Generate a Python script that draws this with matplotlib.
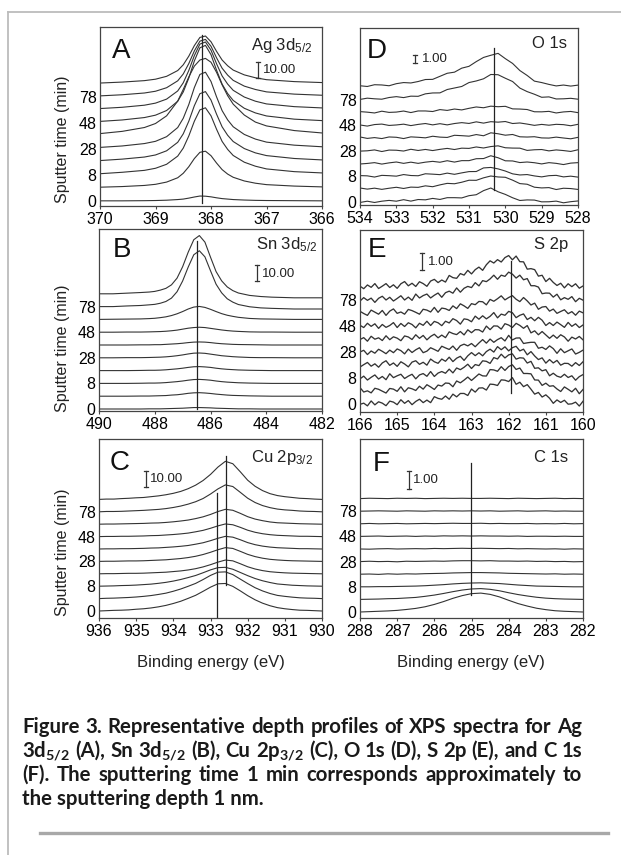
import matplotlib
matplotlib.use("Agg")
import matplotlib.pyplot as plt
from matplotlib.lines import Line2D
import numpy as np

plt.rcParams['font.family'] = ['Liberation Sans', 'DejaVu Sans']
plt.rcParams['mathtext.fontset'] = 'custom'
plt.rcParams['mathtext.rm'] = 'Liberation Sans'
plt.rcParams['mathtext.it'] = 'Liberation Sans:italic'
plt.rcParams['mathtext.bf'] = 'Lato:bold'

# ---------------- data ----------------
sputter_index = [0, 2, 4, 6, 8]
sputter_labels = ['0', '8', '28', '48', '78']

# A: Ag 3d5/2
energy_A = [370.0, 369.6, 369.2, 369.0, 368.8, 368.6, 368.5, 368.4, 368.3, 368.2, 368.1,
            368.0, 367.9, 367.8, 367.7, 367.6, 367.4, 367.2, 367.0, 366.5, 366.0]
ag_spectra = [
    [0.1, 0.1, 0.2, 0.3, 0.5, 0.9, 1.2, 1.8, 2.5, 3.1, 3.0, 2.6, 2.0, 1.5, 1.2, 0.9, 0.6, 0.4, 0.3, 0.2, 0.1],
    [0.5, 0.9, 1.6, 2.3, 3.7, 6.4, 9.2, 13.3, 18.4, 22.3, 23.0, 20.2, 15.6, 11.5, 8.7, 6.7, 4.4, 3.0, 2.1, 1.2, 0.7],
    [0.8, 1.7, 2.9, 4.2, 6.7, 11.8, 16.8, 24.4, 33.6, 40.7, 42.0, 37.0, 28.6, 21.0, 16.0, 12.2, 8.0, 5.5, 3.8, 2.1, 1.3],
    [0.9, 1.8, 3.1, 4.4, 7.0, 12.3, 17.6, 25.5, 35.2, 42.7, 44.0, 38.7, 29.9, 22.0, 16.7, 12.8, 8.4, 5.7, 4.0, 2.2, 1.3],
    [1.0, 1.9, 3.4, 4.8, 7.7, 13.4, 19.2, 27.8, 38.4, 46.6, 48.0, 42.2, 32.6, 24.0, 18.2, 13.9, 9.1, 6.2, 4.3, 2.4, 1.4],
    [1.5, 2.9, 5.3, 7.8, 12.6, 21.8, 29.1, 36.9, 43.7, 47.5, 48.5, 46.1, 39.8, 32.0, 25.2, 19.9, 13.1, 8.7, 6.3, 3.4, 1.9],
    [1.0, 1.9, 3.4, 4.9, 7.8, 13.6, 19.4, 28.1, 38.8, 47.0, 48.5, 42.7, 33.0, 24.3, 18.4, 14.1, 9.2, 6.3, 4.4, 2.4, 1.5],
    [0.9, 1.7, 3.0, 4.3, 6.8, 11.9, 17.0, 24.7, 34.0, 41.2, 42.5, 37.4, 28.9, 21.3, 16.2, 12.3, 8.1, 5.5, 3.8, 2.1, 1.3],
    [0.7, 1.4, 2.5, 3.6, 5.8, 10.1, 14.4, 20.9, 28.8, 34.9, 36.0, 31.7, 24.5, 18.0, 13.7, 10.4, 6.8, 4.7, 3.2, 1.8, 1.1],
    [0.6, 1.2, 2.1, 3.0, 4.8, 8.4, 12.0, 17.4, 24.0, 29.1, 30.0, 26.4, 20.4, 15.0, 11.4, 8.7, 5.7, 3.9, 2.7, 1.5, 0.9],
]
ag_peak = [368.16]

# B: Sn 3d5/2
energy_B = [490.0, 489.5, 489.0, 488.5, 488.2, 488.0, 487.8, 487.6, 487.4, 487.2, 487.0, 486.8, 486.6,
            486.4, 486.2, 486.0, 485.8, 485.6, 485.4, 485.2, 485.0, 484.6, 484.2, 483.8, 483.0, 482.0]
sn_spectra = [
    [0, 0, 0, 0, 0.1, 0.1, 0.1, 0.2, 0.3, 0.4, 0.5, 0.7, 0.9, 0.9, 0.8, 0.7, 0.5, 0.4, 0.3, 0.2, 0.1, 0.1, 0, 0, 0, 0],
    [0, 0, 0, 0.1, 0.1, 0.2, 0.3, 0.4, 0.7, 0.9, 1.3, 1.8, 2.1, 2.2, 2.0, 1.7, 1.3, 1.0, 0.7, 0.5, 0.4, 0.2, 0.1, 0, 0, 0],
    [0, 0, 0, 0.1, 0.2, 0.2, 0.3, 0.5, 0.8, 1.1, 1.5, 2.0, 2.4, 2.5, 2.3, 2.0, 1.5, 1.1, 0.8, 0.6, 0.4, 0.2, 0.1, 0, 0, 0],
    [0, 0, 0, 0.1, 0.2, 0.2, 0.3, 0.5, 0.8, 1.1, 1.5, 2.0, 2.4, 2.5, 2.3, 2.0, 1.5, 1.1, 0.8, 0.6, 0.4, 0.2, 0.1, 0, 0, 0],
    [0, 0, 0.1, 0.1, 0.2, 0.3, 0.4, 0.6, 0.9, 1.3, 1.8, 2.4, 2.9, 3.0, 2.8, 2.3, 1.8, 1.3, 1.0, 0.7, 0.5, 0.2, 0.1, 0.1, 0, 0],
    [0, 0, 0, 0.1, 0.1, 0.2, 0.2, 0.4, 0.6, 0.8, 1.1, 1.5, 1.8, 1.9, 1.8, 1.5, 1.1, 0.8, 0.6, 0.4, 0.3, 0.2, 0.1, 0, 0, 0],
    [0, 0, 0.1, 0.1, 0.2, 0.3, 0.4, 0.6, 0.9, 1.3, 1.9, 2.5, 2.9, 3.1, 2.9, 2.4, 1.9, 1.4, 1.0, 0.7, 0.5, 0.2, 0.1, 0.1, 0, 0],
    [0, 0.1, 0.2, 0.3, 0.5, 0.7, 1.1, 1.6, 2.4, 3.5, 4.9, 6.5, 7.7, 8.1, 7.5, 6.3, 4.9, 3.6, 2.6, 1.9, 1.3, 0.6, 0.3, 0.2, 0, 0],
    [0, 0, 0.4, 0.7, 1.1, 1.4, 2.1, 3.2, 5.3, 9.3, 16.0, 24.7, 32.4, 34.9, 31.1, 22.4, 14.0, 8.6, 4.9, 2.8, 1.3, -0.1, -0.8, -1.1, -1.5, -1.5],
    [0, 0, 0.4, 0.8, 1.1, 1.5, 2.3, 3.4, 5.6, 9.8, 16.9, 26.0, 33.8, 36.4, 32.3, 22.9, 13.9, 8.1, 4.3, 2.0, 0.5, -1.0, -1.7, -2.1, -2.5, -2.5],
]
sn_peak = [486.49]

# C: Cu 2p3/2
energy_C = [936.0, 935.8, 935.6, 935.4, 935.2, 935.0, 934.8, 934.6, 934.4, 934.2, 934.0, 933.8, 933.6,
            933.4, 933.2, 933.0, 932.8, 932.6, 932.4, 932.2, 932.0, 931.8, 931.6, 931.4, 931.2, 931.0,
            930.8, 930.6, 930.4, 930.2, 930.0]
cu_spectra = [
    [0, 0.2, 0.4, 0.5, 0.7, 1.1, 1.4, 1.9, 2.6, 3.5, 4.7, 6.1, 7.9, 9.8, 12.3, 14.9, 17.0, 17.2, 15.4, 12.6, 9.6, 7.0, 4.9, 3.3, 2.1, 1.4, 0.9, 0.5, 0.4, 0.2, 0],
    [0, 0.2, 0.3, 0.5, 0.7, 1.0, 1.4, 1.9, 2.6, 3.4, 4.6, 6.0, 7.7, 9.5, 11.9, 14.5, 16.5, 16.7, 15.0, 12.2, 9.4, 6.8, 4.8, 3.2, 2.0, 1.4, 0.9, 0.5, 0.3, 0.2, 0],
    [0, 0.1, 0.2, 0.4, 0.5, 0.7, 1.0, 1.3, 1.8, 2.4, 3.2, 4.2, 5.4, 6.7, 8.4, 10.2, 11.6, 11.8, 10.6, 8.6, 6.6, 4.8, 3.4, 2.3, 1.4, 1.0, 0.6, 0.4, 0.2, 0.1, 0],
    [0, 0.1, 0.1, 0.2, 0.3, 0.3, 0.4, 0.6, 0.8, 1.0, 1.4, 1.8, 2.4, 3.2, 4.3, 5.7, 7.3, 8.6, 8.1, 6.3, 4.4, 3.0, 2.0, 1.3, 0.9, 0.6, 0.4, 0.3, 0.2, 0.1, 0],
    [0, 0.1, 0.1, 0.2, 0.3, 0.3, 0.4, 0.6, 0.8, 1.0, 1.4, 1.8, 2.4, 3.2, 4.3, 5.7, 7.3, 8.6, 8.1, 6.3, 4.4, 3.0, 2.0, 1.3, 0.9, 0.6, 0.4, 0.3, 0.2, 0.1, 0],
    [0, 0.1, 0.1, 0.2, 0.2, 0.3, 0.4, 0.6, 0.7, 1.0, 1.3, 1.7, 2.2, 3.0, 3.9, 5.2, 6.7, 7.9, 7.4, 5.8, 4.0, 2.7, 1.8, 1.2, 0.8, 0.6, 0.4, 0.2, 0.2, 0.1, 0],
    [0, 0.1, 0.1, 0.2, 0.2, 0.3, 0.4, 0.6, 0.7, 1.0, 1.3, 1.7, 2.2, 3.0, 3.9, 5.2, 6.7, 7.9, 7.4, 5.8, 4.0, 2.7, 1.8, 1.2, 0.8, 0.6, 0.4, 0.2, 0.2, 0.1, 0],
    [0, 0.1, 0.1, 0.2, 0.3, 0.4, 0.5, 0.7, 0.8, 1.1, 1.5, 2.0, 2.6, 3.5, 4.6, 6.1, 7.9, 9.3, 8.7, 6.8, 4.7, 3.2, 2.2, 1.4, 0.9, 0.7, 0.5, 0.3, 0.2, 0.1, 0],
    [0, 0.2, 0.2, 0.3, 0.5, 0.7, 0.9, 1.2, 1.5, 2.0, 2.7, 3.6, 4.8, 6.3, 8.3, 11.1, 14.3, 16.8, 15.8, 12.2, 8.5, 5.8, 3.9, 2.6, 1.7, 1.2, 0.9, 0.5, 0.3, 0.2, 0],
    [0, 0.2, 0.2, 0.5, 0.7, 1.0, 1.2, 1.7, 2.2, 2.9, 3.8, 5.0, 6.7, 8.9, 11.8, 15.6, 20.2, 23.8, 22.3, 17.3, 12.0, 8.2, 5.5, 3.6, 2.4, 1.7, 1.2, 0.7, 0.5, 0.2, 0],
]
cu_peaks = [932.83, 932.57]

# D: O 1s
energy_D = [534.0, 533.8, 533.6, 533.4, 533.2, 533.0, 532.8, 532.6, 532.4, 532.2, 532.0, 531.8, 531.6,
            531.4, 531.2, 531.0, 530.8, 530.6, 530.4, 530.2, 530.0, 529.8, 529.6, 529.4, 529.2, 529.0,
            528.8, 528.6, 528.4, 528.2, 528.0]
o_spectra = [
    [-0.06, 0.10, -0.06, 0.10, 0.20, 0.10, 0.29, 0.11, 0.31, 0.27, 0.45, 0.32, 0.54, 0.54, 0.51, 0.79, 0.91, 1.42, 1.75, 1.28, 0.95, 0.53, 0.19, 0.26, 0.24, 0.02, 0.03, 0.11, -0.10, 0.04, 0.13],
    [0.15, 0.01, 0.13, -0.02, 0.12, 0.24, 0.09, 0.26, 0.23, 0.42, 0.31, 0.54, 0.73, 0.68, 0.87, 1.12, 1.11, 1.42, 1.65, 1.53, 1.49, 1.13, 0.70, 0.62, 0.25, 0.16, 0.20, -0.04, 0.12, 0.08, -0.03],
    [0.10, 0.07, -0.08, 0.13, 0.09, 0.03, 0.23, 0.11, 0.08, 0.33, 0.28, 0.22, 0.41, 0.26, 0.44, 0.60, 0.61, 1.06, 1.12, 0.94, 0.67, 0.32, 0.18, 0.23, 0.06, -0.06, 0.09, 0.13, -0.06, 0.03, -0.09],
    [-0.05, 0.02, 0.12, -0.06, 0.09, 0.20, 0.03, 0.18, 0.03, 0.18, 0.28, 0.17, 0.36, 0.19, 0.37, 0.37, 0.61, 0.63, 0.98, 0.73, 0.35, 0.33, 0.13, 0.20, 0.11, -0.04, 0.12, 0.03, -0.12, 0.06, 0.12],
    [-0.04, 0.00, 0.11, -0.09, 0.09, 0.07, -0.03, 0.19, 0.04, 0.17, 0.03, 0.18, 0.30, 0.16, 0.33, 0.30, 0.48, 0.35, 0.53, 0.62, 0.38, 0.34, 0.33, 0.05, 0.13, 0.16, -0.01, 0.11, 0.03, -0.08, 0.13],
    [0.13, -0.05, 0.05, -0.07, 0.13, 0.09, -0.07, 0.14, 0.09, 0.02, 0.22, 0.11, 0.07, 0.34, 0.29, 0.23, 0.43, 0.28, 0.65, 0.53, 0.35, 0.44, 0.15, 0.12, 0.16, 0.01, -0.01, 0.11, 0.00, -0.10, 0.08],
    [0.03, -0.11, 0.08, 0.14, -0.03, 0.03, 0.13, -0.05, 0.10, 0.21, 0.04, 0.19, 0.04, 0.21, 0.32, 0.22, 0.42, 0.26, 0.44, 0.38, 0.46, 0.21, 0.28, 0.14, -0.02, 0.10, 0.00, 0.11, 0.07, -0.07, 0.11],
    [0.10, 0.03, -0.07, 0.15, 0.00, 0.04, 0.17, -0.02, 0.18, 0.18, 0.11, 0.35, 0.25, 0.42, 0.31, 0.51, 0.68, 0.58, 0.78, 0.71, 0.76, 0.44, 0.42, 0.36, 0.08, 0.07, 0.13, -0.07, 0.06, 0.12, -0.03],
    [0.02, 0.18, 0.10, 0.05, 0.26, 0.37, 0.25, 0.43, 0.41, 0.72, 0.83, 0.84, 1.26, 1.45, 1.64, 2.13, 2.33, 2.60, 3.14, 3.11, 2.67, 2.26, 1.44, 1.00, 0.67, 0.29, 0.34, 0.08, 0.10, 0.16, 0.05],
    [0.13, 0.04, 0.26, 0.23, 0.13, 0.39, 0.53, 0.48, 0.66, 0.91, 0.93, 1.31, 1.69, 1.83, 2.33, 2.56, 3.15, 3.67, 3.94, 4.18, 3.52, 2.92, 2.03, 1.42, 0.71, 0.53, 0.30, 0.11, 0.22, 0.09, 0.21],
]
o_peak = [530.31]

# E: S 2p
energy_E = [166.0, 165.9, 165.8, 165.7, 165.6, 165.5, 165.4, 165.3, 165.2, 165.1, 165.0, 164.9, 164.8,
            164.7, 164.6, 164.5, 164.4, 164.3, 164.2, 164.1, 164.0, 163.9, 163.8, 163.7, 163.6, 163.5,
            163.4, 163.3, 163.2, 163.1, 163.0, 162.9, 162.8, 162.7, 162.6, 162.5, 162.4, 162.3, 162.2,
            162.1, 162.0, 161.9, 161.8, 161.7, 161.6, 161.5, 161.4, 161.3, 161.2, 161.1, 161.0, 160.9,
            160.8, 160.7, 160.6, 160.5, 160.4, 160.3, 160.2, 160.1, 160.0]
s_spectra = [
    [-0.02, 0.05, -0.11, 0.18, -0.05, 0.13, 0.05, -0.10, 0.17, 0.11, -0.04, 0.25, 0.04, 0.20, -0.04, 0.15, 0.28, 0.08, 0.23, 0.08, 0.43, 0.33, 0.28, 0.47, 0.28, 0.58, 0.42, 0.62, 0.62, 0.50, 0.88, 0.70, 0.94, 0.95, 0.82, 1.17, 1.15, 1.09, 1.42, 1.40, 1.32, 1.55, 1.16, 1.28, 1.02, 1.14, 0.87, 0.58, 0.68, 0.41, 0.54, 0.34, 0.04, 0.24, 0.09, 0.22, -0.01, 0.01, 0.11, -0.12, 0.16],
    [0.20, -0.06, 0.01, -0.11, 0.16, 0.10, -0.01, -0.12, 0.15, 0.11, -0.02, 0.25, -0.05, 0.19, 0.13, 0.03, 0.28, 0.11, 0.37, 0.24, 0.09, 0.35, 0.29, 0.47, 0.45, 0.25, 0.59, 0.48, 0.64, 0.82, 0.62, 0.81, 1.00, 0.89, 0.88, 1.26, 1.24, 1.16, 1.43, 1.21, 1.44, 1.54, 1.27, 1.35, 1.03, 1.03, 1.01, 0.65, 0.64, 0.33, 0.46, 0.28, 0.31, 0.12, -0.03, 0.24, 0.10, -0.05, 0.16, -0.16, 0.09],
    [-0.05, 0.11, -0.12, 0.04, 0.18, -0.06, 0.09, -0.10, 0.25, 0.02, 0.13, 0.22, -0.03, 0.11, 0.22, -0.05, 0.18, 0.26, 0.10, 0.38, 0.09, 0.29, 0.38, 0.28, 0.52, 0.30, 0.59, 0.49, 0.63, 0.81, 0.56, 0.79, 0.73, 1.01, 0.98, 0.86, 1.20, 1.12, 1.40, 1.18, 1.36, 1.42, 1.11, 1.19, 1.17, 0.88, 0.98, 0.57, 0.60, 0.42, 0.49, 0.13, 0.28, 0.11, 0.04, 0.22, 0.03, 0.13, -0.13, 0.08, 0.20],
    [-0.12, 0.02, 0.15, -0.07, 0.07, -0.13, 0.12, 0.25, -0.02, 0.12, -0.08, 0.19, 0.06, -0.11, 0.17, 0.25, 0.04, 0.16, -0.01, 0.35, 0.19, 0.10, 0.35, 0.22, 0.46, 0.20, 0.40, 0.51, 0.27, 0.54, 0.73, 0.55, 0.72, 0.54, 0.79, 0.93, 0.76, 1.08, 0.90, 1.07, 0.83, 1.02, 1.10, 0.83, 0.93, 0.60, 0.79, 0.53, 0.32, 0.42, 0.11, 0.32, 0.12, 0.27, -0.01, 0.10, 0.09, -0.07, 0.14, -0.03, 0.19],
    [0.00, 0.10, -0.15, 0.06, -0.07, 0.16, 0.04, -0.10, 0.11, -0.04, 0.18, 0.08, -0.11, 0.17, -0.03, 0.13, 0.25, -0.04, 0.05, 0.25, 0.15, 0.04, 0.34, 0.24, 0.15, 0.35, 0.10, 0.37, 0.46, 0.36, 0.50, 0.31, 0.53, 0.73, 0.52, 0.76, 0.57, 0.73, 0.84, 0.65, 0.98, 0.71, 0.82, 0.83, 0.50, 0.54, 0.57, 0.57, 0.22, 0.28, 0.15, 0.36, 0.20, -0.08, 0.19, -0.04, 0.07, 0.18, -0.12, -0.02, 0.11],
    [-0.03, 0.08, -0.13, 0.16, -0.01, 0.07, -0.09, 0.19, -0.04, 0.13, 0.05, -0.10, 0.18, 0.12, -0.03, 0.25, 0.04, 0.21, -0.05, 0.15, 0.28, 0.07, 0.23, 0.08, 0.42, 0.32, 0.26, 0.44, 0.24, 0.54, 0.37, 0.55, 0.54, 0.41, 0.76, 0.55, 0.77, 0.76, 0.58, 0.90, 0.82, 0.68, 0.92, 0.80, 0.63, 0.79, 0.36, 0.48, 0.25, 0.44, 0.24, 0.04, 0.23, 0.04, 0.25, 0.12, -0.13, 0.11, 0.00, 0.15, -0.05],
    [0.04, -0.09, 0.16, -0.02, 0.13, -0.14, 0.09, -0.08, 0.03, 0.20, -0.09, 0.15, -0.03, 0.19, 0.09, -0.11, 0.16, 0.04, 0.28, 0.03, 0.27, 0.19, 0.02, 0.28, 0.18, 0.43, 0.32, 0.11, 0.42, 0.38, 0.25, 0.58, 0.40, 0.60, 0.42, 0.57, 0.79, 0.48, 0.70, 0.63, 0.86, 0.78, 0.49, 0.63, 0.71, 0.38, 0.51, 0.31, 0.51, 0.34, 0.03, 0.20, 0.03, 0.23, 0.08, -0.08, 0.21, -0.02, 0.13, -0.09, 0.06],
    [0.10, -0.03, -0.14, 0.17, 0.05, -0.07, 0.15, -0.14, 0.11, 0.24, -0.02, 0.06, -0.07, 0.21, 0.14, 0.04, -0.07, 0.22, 0.17, 0.06, 0.33, 0.04, 0.29, 0.25, 0.15, 0.42, 0.26, 0.54, 0.42, 0.27, 0.55, 0.49, 0.68, 0.66, 0.48, 0.80, 0.69, 0.84, 1.01, 0.77, 0.91, 1.02, 0.81, 0.67, 0.91, 0.71, 0.47, 0.58, 0.22, 0.35, 0.38, 0.11, 0.23, -0.02, 0.09, 0.19, -0.04, 0.08, -0.13, 0.11, 0.01],
    [-0.06, 0.14, -0.02, 0.11, -0.14, 0.10, 0.22, 0.00, 0.16, -0.06, 0.09, 0.25, 0.00, 0.17, -0.02, 0.35, 0.12, 0.26, 0.35, 0.12, 0.28, 0.41, 0.16, 0.43, 0.52, 0.40, 0.71, 0.46, 0.69, 0.80, 0.73, 1.02, 0.83, 1.14, 1.08, 1.24, 1.46, 1.22, 1.46, 1.39, 1.64, 1.52, 1.29, 1.46, 1.19, 1.26, 0.84, 0.84, 0.76, 0.37, 0.41, 0.40, 0.17, 0.34, 0.01, 0.14, 0.04, 0.20, -0.10, 0.10, -0.01],
    [0.05, -0.10, 0.12, -0.02, 0.20, -0.09, 0.05, 0.20, -0.03, 0.13, -0.08, 0.19, 0.32, 0.07, 0.22, 0.03, 0.31, 0.20, 0.04, 0.35, 0.45, 0.26, 0.41, 0.29, 0.68, 0.55, 0.51, 0.79, 0.70, 0.98, 0.77, 1.02, 1.17, 0.98, 1.31, 1.54, 1.41, 1.61, 1.47, 1.73, 1.85, 1.60, 1.82, 1.49, 1.48, 1.05, 1.08, 1.02, 0.64, 0.69, 0.32, 0.51, 0.27, 0.09, 0.22, -0.05, 0.19, 0.02, 0.19, -0.07, 0.06],
]
s_peak = [161.94]

# F: C 1s
energy_F = [288.0, 287.75, 287.5, 287.25, 287.0, 286.75, 286.5, 286.25, 286.0, 285.75, 285.5, 285.25,
            285.0, 284.75, 284.5, 284.25, 284.0, 283.75, 283.5, 283.25, 283.0, 282.75, 282.5, 282.25, 282.0]
c_spectra = [
    [0, 0.02, 0.04, 0.06, 0.09, 0.14, 0.20, 0.29, 0.42, 0.58, 0.76, 0.91, 1.02, 1.05, 0.98, 0.84, 0.65, 0.47, 0.33, 0.21, 0.13, 0.07, 0.04, 0.02, 0],
    [0, 0.01, 0.02, 0.04, 0.05, 0.08, 0.11, 0.17, 0.24, 0.33, 0.43, 0.52, 0.58, 0.60, 0.56, 0.48, 0.37, 0.27, 0.19, 0.12, 0.07, 0.04, 0.02, 0.01, 0],
    [0, 0, 0.01, 0.01, 0.02, 0.03, 0.04, 0.06, 0.09, 0.12, 0.16, 0.19, 0.21, 0.22, 0.20, 0.18, 0.14, 0.10, 0.07, 0.04, 0.03, 0.02, 0.01, 0, 0],
    [0, 0.01, -0.01, 0.02, 0, 0.02, 0.01, 0.03, 0.04, 0.05, 0.07, 0.08, 0.09, 0.09, 0.08, 0.07, 0.05, 0.04, 0.03, 0.02, 0.01, 0.02, 0, 0.01, 0],
    [0, 0.02, 0, 0.01, -0.01, 0.02, 0.01, 0.02, 0.03, 0.02, 0.04, 0.05, 0.05, 0.04, 0.05, 0.03, 0.03, 0.02, 0.03, 0.01, 0.02, 0, 0.01, -0.01, 0],
    [0, -0.01, 0.01, 0.02, 0, 0.01, 0.02, 0.01, 0.03, 0.02, 0.03, 0.04, 0.03, 0.04, 0.03, 0.02, 0.03, 0.01, 0.02, 0.01, 0, 0.01, -0.01, 0.01, 0],
    [0, 0.01, 0.02, 0, 0.01, 0.02, 0, 0.02, 0.01, 0.03, 0.02, 0.03, 0.02, 0.03, 0.02, 0.02, 0.01, 0.02, 0, 0.01, 0.01, 0, 0.01, 0, 0],
    [0, 0.02, 0, 0.01, 0.02, 0, 0.01, 0.02, 0.01, 0.02, 0.03, 0.02, 0.02, 0.03, 0.01, 0.02, 0.01, 0.01, 0.02, 0, 0.01, 0, 0.02, 0, 0.01],
    [0, 0.01, 0.02, 0.01, 0, 0.02, 0.01, 0, 0.02, 0.01, 0.02, 0.01, 0.02, 0.01, 0.02, 0, 0.01, 0.02, 0, 0.01, 0.02, 0, 0.01, 0, 0],
    [0, 0.02, 0.01, 0, 0.02, 0.01, 0.02, 0, 0.01, 0.02, 0.01, 0.02, 0.01, 0.01, 0.02, 0.01, 0, 0.02, 0.01, 0, 0.01, 0.02, 0, 0.01, 0],
]
c_peak = [285.02]

caption_lines = [
    "Figure 3. Representative depth profiles of XPS spectra for Ag",
    r"3d$_{\mathbf{5/2}}$ (A), Sn 3d$_{\mathbf{5/2}}$ (B), Cu 2p$_{\mathbf{3/2}}$ (C), O 1s (D), S 2p (E), and C 1s",
    "(F). The sputtering time 1 min corresponds approximately to",
    "the sputtering depth 1 nm.",
]

# ---------------- layout / style ----------------
W, H, DPI = 621, 855, 100
fig = plt.figure(figsize=(W / DPI, H / DPI), dpi=DPI)
fig.patch.set_facecolor('white')


def fx(x):
    return x / W


def fy(y):
    return 1 - y / H


LINE = '#333333'
panels = [
    dict(letter='A', rect=(100, 27, 322, 206), energy=energy_A, spectra=ag_spectra, xlim=(370, 366),
         xticks=[370, 369, 368, 367, 366], base0=201, spacing=13.0, k=1.6, peaks=ag_peak,
         vspan=[(0.017, 0.955)], label=r'Ag 3d$_{5/2}$', label_pos=(312, 50), letter_pos=(112, 58),
         bar=10, bar_text='10.00', bar_pos=(258, 78), text_pos=(263, 70), lw=0.8),
    dict(letter='B', rect=(99, 229, 322, 411), energy=energy_B, spectra=sn_spectra, xlim=(490, 482),
         xticks=[490, 488, 486, 484, 482], base0=409, spacing=12.8, k=1.6, peaks=sn_peak,
         vspan=[(0.011, 0.934)], label=r'Sn 3d$_{5/2}$', label_pos=(317, 249), letter_pos=(113, 257),
         bar=10, bar_text='10.00', bar_pos=(257, 281), text_pos=(262, 274), lw=0.8),
    dict(letter='C', rect=(99, 439, 322, 618), energy=energy_C, spectra=cu_spectra, xlim=(936, 930),
         xticks=[936, 935, 934, 933, 932, 931, 930], base0=611, spacing=12.4, k=1.6, peaks=cu_peaks,
         vspan=[(0.006, 0.70), (0.184, 0.905)], label=r'Cu 2p$_{3/2}$', label_pos=(313, 462),
         letter_pos=(110, 470), bar=10, bar_text='10.00', bar_pos=(146, 487), text_pos=(150, 479), lw=0.8),
    dict(letter='D', rect=(360, 28, 578, 205), energy=energy_D, spectra=o_spectra, xlim=(534, 528),
         xticks=[534, 533, 532, 531, 530, 529, 528], base0=202, spacing=12.8, k=8.0, peaks=o_peak,
         vspan=[(0.085, 0.887)], label='O 1s', label_pos=(567, 48), letter_pos=(367, 58),
         bar=1, bar_text='1.00', bar_pos=(415, 63), text_pos=(422, 59), lw=0.8),
    dict(letter='E', rect=(360, 230, 583, 412), energy=energy_E, spectra=s_spectra, xlim=(166, 160),
         xticks=[166, 165, 164, 163, 162, 161, 160], base0=404, spacing=13.0, k=17.0, peaks=s_peak,
         vspan=[(0.104, 0.830)], label='S 2p', label_pos=(568, 249), letter_pos=(368, 257),
         bar=1, bar_text='1.00', bar_pos=(422, 270), text_pos=(428, 262), lw=0.95),
    dict(letter='F', rect=(360, 439, 583, 618), energy=energy_F, spectra=c_spectra, xlim=(288, 282),
         xticks=[288, 287, 286, 285, 284, 283, 282], base0=612, spacing=12.6, k=18.0, peaks=c_peak,
         vspan=[(0.128, 0.866)], label='C 1s', label_pos=(568, 462), letter_pos=(373, 471),
         bar=1, bar_text='1.00', bar_pos=(409, 489), text_pos=(413, 480), lw=0.8),
]

for p in panels:
    l, t, r, b = p['rect']
    ax = fig.add_axes([fx(l), fy(b), (r - l) / W, (b - t) / H])
    k = p['k']
    step = p['spacing'] / k
    ax.set_xlim(*p['xlim'])
    ax.set_ylim(-(b - p['base0']) / k, (p['base0'] - t) / k)
    for i, s in enumerate(p['spectra']):
        ax.plot(p['energy'], np.asarray(s) + i * step, color=LINE, lw=p['lw'],
                solid_joinstyle='round')
    for e, (y0, y1) in zip(p['peaks'], p['vspan']):
        ax.axvline(e, ymin=y0, ymax=y1, color='#222222', lw=0.9)
    ax.set_xticks(p['xticks'])
    ax.set_xticklabels([str(v) for v in p['xticks']])
    ax.set_yticks([i * step for i in sputter_index])
    ax.set_yticklabels(sputter_labels)
    ax.tick_params(axis='y', length=0, pad=2.5, labelsize=11.5)
    ax.tick_params(axis='x', direction='out', length=2.5, width=0.8, pad=1.5,
                   labelsize=11.5, color='#444444')
    for sp in ax.spines.values():
        sp.set_color('#444444')
        sp.set_linewidth(0.9)
    # scale bar
    inv = ax.transData.inverted()
    bx, by = p['bar_pos']
    xd, yd = inv.transform((bx, H - by))
    xl, _ = inv.transform((bx - 2.2, H - by))
    xr, _ = inv.transform((bx + 2.2, H - by))
    ax.plot([xd, xd], [yd, yd + p['bar']], color='#333333', lw=0.9)
    ax.plot([xl, xr], [yd, yd], color='#333333', lw=0.9)
    ax.plot([xl, xr], [yd + p['bar'], yd + p['bar']], color='#333333', lw=0.9)
    fig.text(fx(p['text_pos'][0]), fy(p['text_pos'][1]), p['bar_text'], ha='left',
             va='center', fontsize=9.5, color='#222222')
    fig.text(fx(p['label_pos'][0]), fy(p['label_pos'][1]), p['label'], ha='right',
             va='baseline', fontsize=12, color='#222222')
    fig.text(fx(p['letter_pos'][0]), fy(p['letter_pos'][1]), p['letter'], ha='left',
             va='baseline', fontsize=20, color='#111111')

# axis titles
for yc in (139, 348, 552):
    fig.text(fx(63), fy(yc), 'Sputter time (min)', rotation=90, ha='center', va='center',
             fontsize=11.5, color='#222222')
for xc in (211, 471):
    fig.text(fx(xc), fy(662), 'Binding energy (eV)', ha='center', va='center',
             fontsize=12, color='#222222')

# page frame and rule
fig.add_artist(Line2D([fx(8), fx(8)], [fy(12), fy(855)], color='#bcbcbc', lw=1.3))
fig.add_artist(Line2D([fx(8), fx(621)], [fy(12), fy(12)], color='#bcbcbc', lw=1.3))
fig.add_artist(Line2D([fx(40), fx(608)], [fy(833), fy(833)], color='#a8a8a8', lw=2.4))

# justified caption, font size chosen so the first line fills the text width naturally
renderer = fig.canvas.get_renderer()
x_left, x_right = 22, 582
probe = fig.text(0, 0, caption_lines[0], fontsize=10, fontweight='bold',
                 family=['Lato', 'DejaVu Sans'])
natural = probe.get_window_extent(renderer).width
probe.remove()
cap_size = 10 * 552.0 / natural
cap_kw = dict(fontsize=cap_size, fontweight='bold', family=['Lato', 'DejaVu Sans'],
              color='#1a1a1a', va='baseline', ha='left')
for li, line in enumerate(caption_lines):
    ybase = fy(733 + 24 * li)
    if li == len(caption_lines) - 1:
        fig.text(fx(x_left), ybase, line, **cap_kw)
        continue
    words = line.split(' ')
    objs = [fig.text(0, ybase, w, **cap_kw) for w in words]
    widths = [o.get_window_extent(renderer).width for o in objs]
    gap = ((x_right - x_left) - sum(widths)) / (len(words) - 1)
    x = x_left
    for o, w in zip(objs, widths):
        o.set_x(fx(x))
        x += w + gap

fig.savefig('out.png', dpi=DPI, facecolor='white')
